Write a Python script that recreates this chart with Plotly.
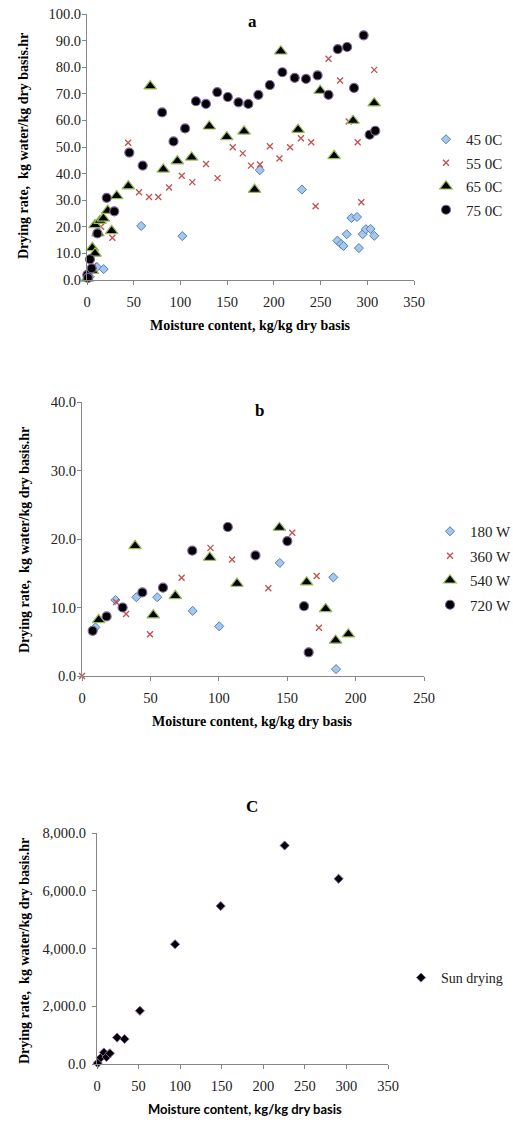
import plotly.graph_objects as go

W, H = 513, 1124

# ---------------- data: chart a (temperature) ----------------
a45_x = [3, 10.6, 17.8, 58, 102, 185, 230, 268, 272, 274.5, 278, 283, 289, 291, 295, 298.5, 303.5, 307.5]
a45_y = [1.2, 4.9, 4.1, 20.3, 16.5, 41.3, 34.0, 14.8, 13.5, 12.8, 17.2, 23.3, 23.7, 12.0, 17.2, 19.1, 19.2, 16.6]

a55_x = [1, 6.8, 15, 27.1, 44, 55.7, 66.4, 76.3, 87.8, 101.4, 112.7, 127.4, 139.7, 156, 166.7, 175.5, 185.1,
         195.7, 206, 217.4, 229, 240, 244.7, 258.5, 270.9, 280.1, 289.7, 293.6, 307.4]
a55_y = [0.5, 5.3, 20.0, 15.9, 51.6, 33.0, 31.2, 31.2, 34.8, 39.2, 36.8, 43.6, 38.3, 49.9, 47.6, 43.0, 43.4,
         50.3, 45.7, 49.9, 53.3, 51.8, 27.7, 83.2, 75.0, 59.6, 51.8, 29.2, 79.0]

a65_x = [0.3, 5.7, 5.7, 8.6, 8.6, 11.7, 13.9, 17.5, 22.2, 26.4, 31.8, 44.2, 67.7, 81.7, 96.7, 112, 130.9,
         149.6, 168.1, 179.4, 207.4, 225.9, 249.6, 264.5, 284.8, 307.4]
a65_y = [0.6, 3.5, 12.1, 10.0, 20.7, 17.6, 22.3, 23.2, 26.1, 18.5, 31.6, 35.3, 72.9, 41.6, 44.7, 46.1, 57.8,
         53.8, 55.9, 34.0, 86.0, 56.5, 71.2, 46.7, 59.9, 66.5]

a75_x = [0.3, 1, 3.2, 5.0, 11.1, 21.1, 29.2, 45.3, 59.6, 80.4, 92.6, 105, 116.6, 127.3, 139.4, 150.7, 162.1,
         172.7, 183.4, 195.7, 209.1, 222.3, 234.4, 246.8, 258.5, 268.4, 278.4, 285.8, 296.1, 302.5, 308.5]
a75_y = [1.9, 0.8, 7.8, 4.4, 17.5, 30.9, 25.8, 47.9, 43.0, 63.0, 52.1, 57.0, 67.2, 66.2, 70.6, 68.8, 66.8,
         66.2, 69.6, 73.3, 78.1, 76.0, 75.6, 76.9, 69.6, 86.8, 87.6, 72.2, 92.0, 54.6, 56.1]

# ---------------- data: chart b (microwave power) ----------------
b180_x = [9.8, 24.4, 39.7, 55.0, 80.9, 100.3, 144.6, 183.7, 185.7]
b180_y = [7.1, 11.1, 11.5, 11.5, 9.5, 7.25, 16.5, 14.4, 1.0]

b360_x = [0, 24.9, 32.2, 49.7, 72.8, 93.9, 109.7, 136.2, 153.7, 171.5, 173.2]
b360_y = [0, 10.8, 9.05, 6.1, 14.35, 18.7, 17.0, 12.8, 20.9, 14.6, 7.05]

b540_x = [12.2, 38.8, 52.1, 68.2, 93.4, 113.3, 144.3, 164.2, 178.1, 185.4, 194.7]
b540_y = [8.2, 19.0, 8.9, 11.7, 17.3, 13.5, 21.65, 13.7, 9.8, 5.2, 6.1]

b720_x = [7.8, 18.0, 29.7, 44.1, 59.2, 80.6, 106.6, 126.8, 150.1, 162.3, 165.7]
b720_y = [6.6, 8.7, 10.0, 12.2, 12.9, 18.3, 21.75, 17.6, 19.7, 10.2, 3.45]

# ---------------- data: chart c (sun drying) ----------------
c_x = [0.8, 4.6, 8.3, 11.4, 15.5, 24.2, 33.2, 51.6, 93.9, 148.8, 225.7, 290.6]
c_y = [30, 218, 400, 240, 370, 915, 864, 1842, 4147, 5470, 7567, 6416]

names_a = ["45 0C", "55 0C", "65 0C", "75 0C"]
names_b = ["180 W", "360 W", "540 W", "720 W"]
name_c = "Sun drying"

x_title = "Moisture content, kg/kg dry basis"
y_title = "Drying rate,  kg water/kg dry basis.hr"

SERIF = "Liberation Serif, Times New Roman, serif"
SANS = "Lato, Carlito, Liberation Sans, sans-serif"
AXC = "#868686"

styles = [
    dict(symbol="diamond", size=7, color="#A7C7EA", line=dict(color="#4F81BD", width=1)),
    dict(symbol="x-thin", size=6, color="#C0504D", line=dict(color="#C0504D", width=1.3)),
    dict(symbol="triangle-up", size=11, color="#000000", line=dict(color="#9BBB59", width=1.2)),
    dict(symbol="circle", size=9, color="#000000", line=dict(color="#8064A2", width=1.2)),
]

fig = go.Figure()

for i, (xs, ys) in enumerate([(a45_x, a45_y), (a55_x, a55_y), (a65_x, a65_y), (a75_x, a75_y)]):
    fig.add_trace(go.Scatter(x=xs, y=ys, mode="markers", name=names_a[i], marker=styles[i],
                             legendgroup=names_a[i], xaxis="x", yaxis="y", legend="legend",
                             cliponaxis=False))
for i, (xs, ys) in enumerate([(b180_x, b180_y), (b360_x, b360_y), (b540_x, b540_y), (b720_x, b720_y)]):
    fig.add_trace(go.Scatter(x=xs, y=ys, mode="markers", name=names_b[i], marker=styles[i],
                             legendgroup=names_b[i], xaxis="x2", yaxis="y2", legend="legend2",
                             cliponaxis=False))
fig.add_trace(go.Scatter(x=c_x, y=c_y, mode="markers", name=name_c,
                         marker=dict(symbol="diamond", size=7, color="#000000",
                                     line=dict(color="#8064A2", width=1)),
                         xaxis="x3", yaxis="y3", legend="legend3", cliponaxis=False))


def px_x(p):
    return p / W


def px_y(p):
    return 1 - p / H


def axis(rng, dtick, dom, anchor, fmt=None, standoff=None):
    d = dict(range=rng, dtick=dtick, tick0=0, tickmode="linear", domain=dom, anchor=anchor,
             showline=True, linecolor=AXC, linewidth=1, ticks="outside", ticklen=4,
             tickcolor=AXC, showgrid=False, zeroline=False, automargin=False,
             ticklabeloverflow="allow",
             tickfont=dict(family=SERIF, size=14.5, color="#222222"))
    if fmt:
        d["tickformat"] = fmt
    if standoff is not None:
        d["ticklabelstandoff"] = standoff
    return d


LEG_FONT = dict(family=SERIF, size=15, color="#222222")

layout = dict(
    width=W, height=H, margin=dict(l=0, r=0, t=0, b=0, autoexpand=False),
    paper_bgcolor="white", plot_bgcolor="white", showlegend=True,
    xaxis=axis([0, 350], 50, [px_x(87), px_x(414)], "y", standoff=5),
    yaxis=axis([0, 100], 10, [px_y(280), px_y(14)], "x", ".1f", standoff=-2),
    xaxis2=axis([0, 250], 50, [px_x(82), px_x(424)], "y2", standoff=5),
    yaxis2=axis([0, 40], 10, [px_y(676), px_y(402)], "x2", ".1f", standoff=-2),
    xaxis3=axis([0, 350], 50, [px_x(97), px_x(388)], "y3", standoff=5),
    yaxis3=axis([0, 8000], 2000, [px_y(1064), px_y(833)], "x3", ",.1f", standoff=3),
    legend=dict(x=px_x(426), y=px_y(123), xanchor="left", yanchor="top", tracegroupgap=1,
                traceorder="grouped", font=LEG_FONT, bgcolor="rgba(0,0,0,0)"),
    legend2=dict(x=px_x(430), y=px_y(515), xanchor="left", yanchor="top", tracegroupgap=2,
                 traceorder="grouped", font=LEG_FONT, bgcolor="rgba(0,0,0,0)"),
    legend3=dict(x=px_x(401), y=px_y(962), xanchor="left", yanchor="top",
                 font=dict(family=SERIF, size=14, color="#222222"), bgcolor="rgba(0,0,0,0)"),
)

annotations = []
# panel letters
for txt, xp, yp in [("a", 252, 22), ("b", 259, 410), ("C", 252, 806)]:
    annotations.append(dict(text=f"<b>{txt}</b>", x=px_x(xp), y=px_y(yp), xref="paper", yref="paper",
                            showarrow=False, xanchor="center", yanchor="middle",
                            font=dict(family=SERIF, size=17, color="#000000")))
# x titles
for xp, yp, fam, sz in [(250, 325, SERIF, 14), (252, 721, SERIF, 14), (245, 1109, SANS, 13)]:
    annotations.append(dict(text=f"<b>{x_title}</b>", x=px_x(xp), y=px_y(yp), xref="paper", yref="paper",
                            showarrow=False, xanchor="center", yanchor="middle",
                            font=dict(family=fam, size=sz, color="#000000")))
# y titles
for yp in [146, 540, 951]:
    annotations.append(dict(text=f"<b>{y_title}</b>", x=px_x(24), y=px_y(yp), xref="paper", yref="paper",
                            showarrow=False, xanchor="center", yanchor="middle", textangle=-90,
                            font=dict(family=SERIF, size=14, color="#000000")))
layout["annotations"] = annotations

fig.update_layout(**layout)
fig.write_html("out.html", config={"displayModeBar": False},
               post_script="document.body.style.margin='0';document.body.style.overflow='hidden';")
